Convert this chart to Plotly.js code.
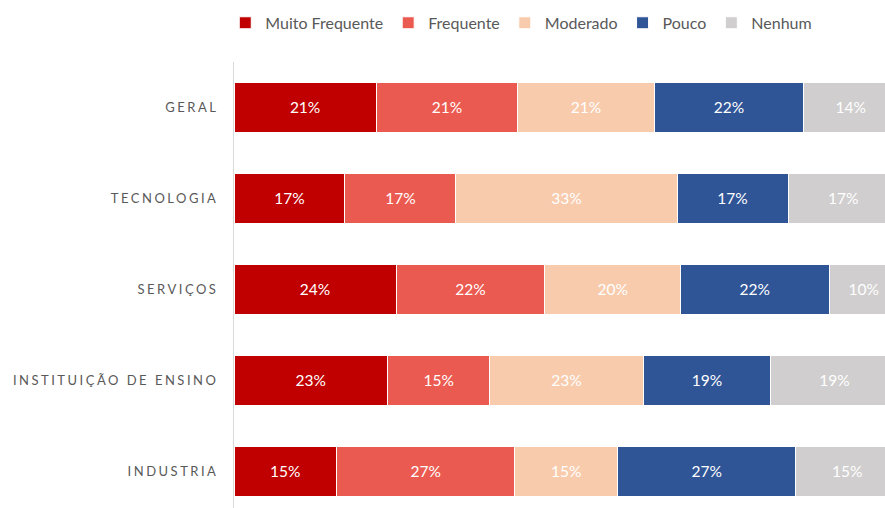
<!DOCTYPE html>
<html>
<head>
<meta charset="utf-8">
<script src="https://cdn.plot.ly/plotly-3.0.1.min.js"></script>
<style>
html,body{margin:0;padding:0;background:#fff;overflow:hidden;}
#chart{width:885px;height:508px;}
.ytick text{letter-spacing:2.5px;}
</style>
</head>
<body>
<div id="chart"></div>
<script>
const categories = ["GERAL", "TECNOLOGIA", "SERVIÇOS", "INSTITUIÇÃO DE ENSINO", "INDUSTRIA"];
const seriesNames = ["Muito Frequente", "Frequente", "Moderado", "Pouco", "Nenhum"];
const muitoFrequente = [21.4, 16.7, 24.4, 23.1, 15.4];
const frequente      = [21.3, 16.7, 22.4, 15.4, 26.9];
const moderado       = [20.6, 33.3, 20.4, 23.1, 15.4];
const pouco          = [22.4, 16.7, 22.4, 19.2, 26.9];
const nenhum         = [14.3, 16.6, 10.4, 19.2, 15.4];
const colors = ["#C00000", "#EB5A50", "#F8CBAD", "#2F5597", "#D0CECE"];

const seriesValues = [muitoFrequente, frequente, moderado, pouco, nenhum];
const traces = seriesValues.map((vals, i) => ({
  type: "bar",
  orientation: "h",
  name: seriesNames[i],
  y: categories,
  x: vals,
  marker: {color: colors[i], line: {color: "#ffffff", width: 1}},
  texttemplate: "%{x:.0f}%",
  textposition: "inside",
  insidetextanchor: "middle",
  textfont: {color: "#ffffff", size: 15.5, family: "Lato, 'Open Sans', sans-serif"},
  constraintext: "none",
  hoverinfo: "skip"
}));

const layout = {
  width: 885, height: 508,
  barmode: "stack",
  bargap: 0.45,
  margin: {l: 234, r: 0, t: 62, b: 0},
  paper_bgcolor: "#ffffff",
  plot_bgcolor: "#ffffff",
  font: {family: "Lato, 'Open Sans', sans-serif", color: "#595959"},
  showlegend: true,
  legend: {
    orientation: "h",
    xref: "container", yref: "container",
    x: 0.589, xanchor: "center",
    y: 0.955, yanchor: "middle",
    font: {size: 16, color: "#595959"},
    itemwidth: 30,
    traceorder: "normal"
  },
  xaxis: {range: [0, 98], visible: false, fixedrange: true},
  yaxis: {
    type: "category",
    categoryorder: "array",
    categoryarray: categories,
    range: [4.407, -0.5],
    showline: true, linecolor: "#D9D9D9", linewidth: 1,
    showgrid: false, zeroline: false,
    ticks: "", ticklabelstandoff: 12,
    tickfont: {size: 13, color: "#595959", family: "Lato, 'Open Sans', sans-serif"}
  }
};

Plotly.newPlot("chart", traces, layout, {displayModeBar: false, staticPlot: true});
</script>
</body>
</html>
